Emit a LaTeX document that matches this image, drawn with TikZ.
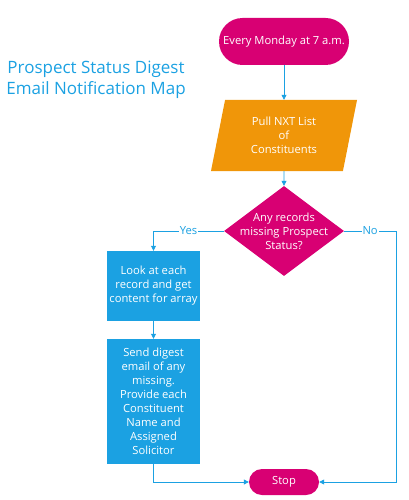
\documentclass[tikz,border=0pt]{standalone}
\usepackage{fontspec}
\setmainfont{Open Sans}
\usetikzlibrary{shapes.geometric,arrows.meta}

\definecolor{flowblue}{HTML}{1BA1E2}
\definecolor{flowpink}{HTML}{D80073}
\definecolor{floworange}{HTML}{F09609}

\tikzset{
  boxtext/.style={text=white, align=center, font=\fontsize{11.2}{14}\selectfont},
  terminal/.style={boxtext, fill=flowpink, rounded corners=#1, inner sep=0pt},
  inputbox/.style={boxtext, fill=floworange, trapezium, trapezium left angle=69,
    trapezium right angle=111, trapezium stretches body, minimum width=146pt,
    minimum height=71pt, inner sep=0pt},
  decision/.style={fill=flowpink, diamond, minimum width=120pt, minimum height=90pt, inner sep=0pt},
  process/.style={boxtext, fill=flowblue, minimum width=93pt, inner sep=0pt},
  flowline/.style={draw=flowblue, line width=0.8pt, -{Triangle[length=5pt,width=5pt]}},
  branchlabel/.style={text=flowblue, fill=white, inner sep=1pt, font=\fontsize{11.2}{14}\selectfont}
}

\begin{document}
\begin{tikzpicture}[x=1pt,y=-1pt]
  \useasboundingbox (0,0) rectangle (409,500);

  % title
  \node[text=flowblue, align=center, font=\fontsize{17}{21}\selectfont] (title) at (96,80)
    {Prospect Status Digest\\Email Notification Map};

  % flow
  \node[terminal=23.5pt, minimum width=130pt, minimum height=47pt] (start) at (284,41.5) {Every Monday at 7 a.m.};
  \node[inputbox] (pull) at (284,135.5) {Pull NXT List\\of\\Constituents};
  \node[decision] (check) at (284,231) {};
  \node[boxtext] (checktext) at (check) {Any records\\missing Prospect\\Status?};
  \node[process, minimum height=70pt] (look) at (153.5,286) {Look at each\\record and get\\content for array};
  \node[process, minimum height=125pt] (send) at (153.5,401.5)
    {Send digest\\email of any\\missing.\\Provide each\\Constituent\\Name and\\Assigned\\Solicitor};
  \node[terminal=13pt, minimum width=70pt, minimum height=26pt] (stop) at (284,482) {Stop};
  \coordinate (noturn) at (396,231);

  \draw[flowline] (start) -- (pull);
  \draw[flowline] (pull) -- (check);
  \draw[flowline] (check.west) -| node[branchlabel, pos=0.25] {Yes} (look.north);
  \draw[flowline] (look) -- (send);
  \draw[flowline] (send.south) |- (stop.west);
  \draw[flowline] (check.east) -- node[branchlabel] {No} (noturn) |- (stop.east);
\end{tikzpicture}
\end{document}
